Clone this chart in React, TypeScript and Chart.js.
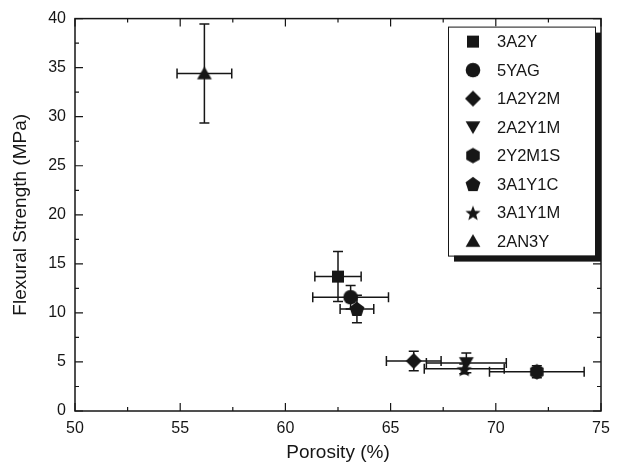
import React, { useEffect, useRef } from "react";
import { Chart, registerables } from "chart.js";
Chart.register(...registerables);

const seriesNames = ["3A2Y", "5YAG", "1A2Y2M", "2A2Y1M", "2Y2M1S", "3A1Y1C", "3A1Y1M", "2AN3Y"];
const porosity = [62.5, 63.1, 66.1, 68.6, 71.95, 63.4, 68.5, 56.15];
const porosityErr = [1.1, 1.8, 1.3, 1.9, 2.25, 0.8, 1.9, 1.3];
const strength = [13.7, 11.6, 5.1, 4.9, 4.0, 10.4, 4.3, 34.4];
const strengthErr = [2.55, 1.2, 1.0, 1.0, 0.6, 1.4, 0.5, 5.05];
const shapes = ["square", "circle", "diamond", "triangleDown", "hexagon", "pentagon", "star", "triangle"];
const xTicks = [50, 55, 60, 65, 70, 75];
const yTicks = [0, 5, 10, 15, 20, 25, 30, 35, 40];

const INK = "#161616";
const FONT = "'Liberation Sans', Arial, Helvetica, sans-serif";

function makeMarker(shape: string): HTMLCanvasElement {
  const s = 18;
  const c = document.createElement("canvas");
  c.width = s;
  c.height = s;
  const g = c.getContext("2d")!;
  g.fillStyle = INK;
  const cx = s / 2, cy = s / 2;
  const poly = (n: number, r: number, rot: number, dy = 0) => {
    g.beginPath();
    for (let i = 0; i < n; i++) {
      const a = rot + (i * 2 * Math.PI) / n;
      const px = cx + r * Math.cos(a), py = cy + dy + r * Math.sin(a);
      if (i === 0) g.moveTo(px, py); else g.lineTo(px, py);
    }
    g.closePath();
    g.fill();
  };
  switch (shape) {
    case "square":
      g.fillRect(cx - 6, cy - 6, 12, 12);
      break;
    case "circle":
      g.beginPath();
      g.arc(cx, cy, 7.3, 0, Math.PI * 2);
      g.fill();
      break;
    case "diamond":
      poly(4, 8, 0);
      break;
    case "triangleDown":
      poly(3, 8.5, Math.PI / 2, -1.5);
      break;
    case "triangle":
      poly(3, 8.5, -Math.PI / 2, 1.5);
      break;
    case "hexagon":
      poly(6, 7.8, -Math.PI / 2);
      break;
    case "pentagon":
      poly(5, 7.8, -Math.PI / 2, 0.6);
      break;
    case "star": {
      g.beginPath();
      for (let i = 0; i < 10; i++) {
        const r = i % 2 === 0 ? 8 : 3.4;
        const a = -Math.PI / 2 + (i * Math.PI) / 5;
        const px = cx + r * Math.cos(a), py = cy + 1 + r * Math.sin(a);
        if (i === 0) g.moveTo(px, py); else g.lineTo(px, py);
      }
      g.closePath();
      g.fill();
      break;
    }
  }
  return c;
}

const errorBarsPlugin = {
  id: "errorBars",
  beforeDatasetsDraw(chart: any) {
    const ctx = chart.ctx;
    const xs = chart.scales.x, ys = chart.scales.y;
    ctx.save();
    ctx.strokeStyle = INK;
    ctx.lineWidth = 1.5;
    const cap = 5;
    for (let i = 0; i < porosity.length; i++) {
      const x0 = xs.getPixelForValue(porosity[i] - porosityErr[i]);
      const x1 = xs.getPixelForValue(porosity[i] + porosityErr[i]);
      const y = ys.getPixelForValue(strength[i]);
      const y0 = ys.getPixelForValue(strength[i] - strengthErr[i]);
      const y1 = ys.getPixelForValue(strength[i] + strengthErr[i]);
      const x = xs.getPixelForValue(porosity[i]);
      ctx.beginPath();
      ctx.moveTo(x0, y); ctx.lineTo(x1, y);
      ctx.moveTo(x0, y - cap); ctx.lineTo(x0, y + cap);
      ctx.moveTo(x1, y - cap); ctx.lineTo(x1, y + cap);
      ctx.moveTo(x, y0); ctx.lineTo(x, y1);
      ctx.moveTo(x - cap, y0); ctx.lineTo(x + cap, y0);
      ctx.moveTo(x - cap, y1); ctx.lineTo(x + cap, y1);
      ctx.stroke();
    }
    ctx.restore();
  },
};

const framePlugin = {
  id: "frame",
  afterDraw(chart: any) {
    const ctx = chart.ctx;
    const { left, right, top, bottom } = chart.chartArea;
    const xs = chart.scales.x, ys = chart.scales.y;
    ctx.save();
    ctx.strokeStyle = INK;
    ctx.lineWidth = 1.5;
    ctx.strokeRect(left, top, right - left, bottom - top);
    ctx.lineWidth = 1.2;
    ctx.beginPath();
    for (let v = 50; v <= 75; v += 2.5) {
      const len = v % 5 === 0 ? 8 : 4;
      const px = xs.getPixelForValue(v);
      ctx.moveTo(px, bottom); ctx.lineTo(px, bottom - len);
      ctx.moveTo(px, top); ctx.lineTo(px, top + len);
    }
    for (let v = 0; v <= 40; v += 2.5) {
      const len = v % 5 === 0 ? 8 : 4;
      const py = ys.getPixelForValue(v);
      ctx.moveTo(left, py); ctx.lineTo(left + len, py);
      ctx.moveTo(right, py); ctx.lineTo(right - len, py);
    }
    ctx.stroke();

    // legend
    const lx = left + 373, ly = top + 8, lw = 147, lh = 229;
    ctx.fillStyle = INK;
    ctx.fillRect(lx + 6, ly + 6, lw, lh);
    ctx.fillStyle = "#ffffff";
    ctx.fillRect(lx, ly, lw, lh);
    ctx.lineWidth = 1;
    ctx.strokeStyle = INK;
    ctx.strokeRect(lx + 0.5, ly + 0.5, lw, lh);
    ctx.font = `16.5px ${FONT}`;
    ctx.textBaseline = "middle";
    ctx.textAlign = "left";
    chart.data.datasets.forEach((ds: any, i: number) => {
      const yy = ly + 15 + i * 28.5;
      const img = ds.pointStyle as HTMLCanvasElement;
      ctx.drawImage(img, lx + 25 - img.width / 2, yy - img.height / 2);
      ctx.fillStyle = INK;
      ctx.fillText(ds.label, lx + 49, yy + 1);
    });
    ctx.restore();
  },
};

export default function App() {
  const ref = useRef<HTMLCanvasElement>(null);
  useEffect(() => {
    const datasets = seriesNames.map((name, i) => ({
      label: name,
      data: [{ x: porosity[i], y: strength[i] }],
      pointStyle: makeMarker(shapes[i]),
      backgroundColor: INK,
      borderColor: INK,
    }));
    const chart = new Chart(ref.current!, {
      type: "scatter",
      data: { datasets },
      plugins: [errorBarsPlugin, framePlugin],
      options: {
        animation: false,
        responsive: false,
        layout: { padding: { top: 13, right: 21, left: 0, bottom: 0 } },
        plugins: { legend: { display: false }, tooltip: { enabled: false } },
        scales: {
          x: {
            type: "linear",
            min: 50,
            max: 75,
            afterFit: (s: any) => { s.height = 56; },
            afterBuildTicks: (s: any) => { s.ticks = xTicks.map((v) => ({ value: v })); },
            grid: { display: false, drawTicks: false },
            border: { display: false },
            ticks: { padding: 8, color: INK, font: { family: FONT, size: 16 } },
            title: { display: true, text: "Porosity (%)", color: INK, font: { family: FONT, size: 19 }, padding: { top: 2, bottom: 2.6 } },
          },
          y: {
            type: "linear",
            min: 0,
            max: 40,
            afterFit: (s: any) => { s.width = 75; },
            afterBuildTicks: (s: any) => { s.ticks = yTicks.map((v) => ({ value: v })); },
            grid: { display: false, drawTicks: false },
            border: { display: false },
            ticks: { padding: 9, color: INK, font: { family: FONT, size: 16 } },
            title: { display: true, text: "Flexural Strength (MPa)", color: INK, font: { family: FONT, size: 19 }, padding: { top: 9, bottom: 2 } },
          },
        },
      } as any,
    });
    return () => chart.destroy();
  }, []);
  return (
    <div style={{ width: 606, height: 451 }}>
      <canvas
        ref={ref}
        width={622}
        height={467}
        style={{ display: "block", position: "fixed", left: 0, top: 0 }}
      />
    </div>
  );
}
